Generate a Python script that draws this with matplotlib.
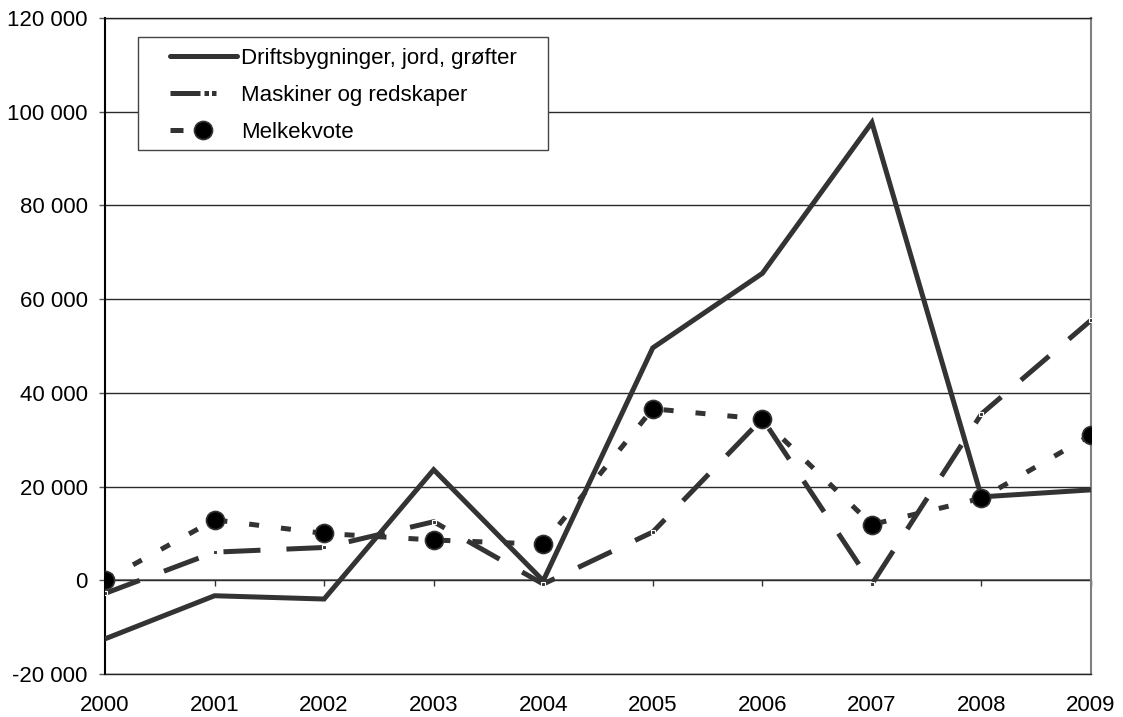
import matplotlib
matplotlib.use("Agg")
import matplotlib.pyplot as plt
from matplotlib.ticker import FuncFormatter, FixedLocator
from matplotlib.lines import Line2D
from matplotlib.patches import Rectangle

plt.rcParams['font.family'] = ['Liberation Sans', 'DejaVu Sans']

years = [2000, 2001, 2002, 2003, 2004, 2005, 2006, 2007, 2008, 2009]
drift = [-12500, -3300, -4000, 23600, -100, 49600, 65500, 97700, 17800, 19300]
maskiner = [-2800, 6000, 7000, 12500, -800, 10300, 34500, -800, 35500, 55500]
melk = [0, 12900, 10000, 8600, 7700, 36600, 34400, 11900, 17500, 31000]
labels = ["Driftsbygninger, jord, grøfter", "Maskiner og redskaper", "Melkekvote"]
yticks = [-20000, 0, 20000, 40000, 60000, 80000, 100000, 120000]

FS = 16
C = '#333333'

fig = plt.figure(figsize=(11.23, 7.17), dpi=100)
ax = fig.add_axes([105/1123, 1-674/717, (1091-105)/1123, (674-18)/717])

ax.set_xlim(years[0], years[-1])
ax.set_ylim(yticks[0], yticks[-1])

# gridlines
ax.yaxis.set_major_locator(FixedLocator(yticks))
ax.grid(axis='y', color='#2a2a2a', linewidth=1.0)
ax.set_axisbelow(True)

l1, = ax.plot(years, drift, color=C, linewidth=3.6, solid_joinstyle='miter', zorder=3)
l2, = ax.plot(years, maskiner, color=C, linewidth=3.6,
              linestyle=(0, (7.4, 5.2)), dash_capstyle='butt',
              marker='s', markersize=3.5, markerfacecolor=C,
              markeredgecolor='white', markeredgewidth=0.8, zorder=3)
l3, = ax.plot(years, melk, color=C, linewidth=3.6,
              linestyle=(0, (2.0, 4.4)), dash_capstyle='butt',
              marker='o', markersize=13, markerfacecolor='black',
              markeredgecolor=C, markeredgewidth=1.2, zorder=4)

# spines
ax.spines['left'].set_color('black')
ax.spines['left'].set_linewidth(1.5)
ax.spines['right'].set_color('#808080')
ax.spines['right'].set_linewidth(1.5)
ax.spines['top'].set_color('#222222')
ax.spines['top'].set_linewidth(1.0)
ax.spines['bottom'].set_color('#222222')
ax.spines['bottom'].set_linewidth(1.0)

ax.yaxis.set_major_formatter(FuncFormatter(lambda v, p: f"{int(v):,}".replace(",", " ")))
ax.tick_params(axis='y', direction='out', length=4.5, width=1, color='#555555',
               pad=8, labelsize=FS)
ax.set_xticks(years)
ax.set_xticklabels([str(y) for y in years])
ax.tick_params(axis='x', length=0, pad=15, labelsize=FS)

# zero axis line with category ticks
zero_frac = (0 - yticks[0]) / (yticks[-1] - yticks[0])
sec = ax.secondary_xaxis(zero_frac)
sec.set_xticks(years)
sec.set_xticklabels([])
sec.tick_params(axis='x', direction='out', length=4.5, width=1, color='#333333')
sec.spines['bottom'].set_color('#808080')
sec.spines['bottom'].set_linewidth(1.5)

# legend proxies
h1 = Line2D([], [], color=C, linewidth=3.6, solid_capstyle='round')
h2 = Line2D([], [], color=C, linewidth=3.6, dash_capstyle='butt',
            linestyle=(0, (6, 0.8, 0.9, 0.6, 0.9, 12)))
h3 = Line2D([], [], color=C, linewidth=3.6, dash_capstyle='butt',
            linestyle=(0, (2.6, 2.4, 3, 10)),
            marker='o', markersize=13, markerfacecolor='black',
            markeredgecolor=C, markeredgewidth=1.2)

frame = Rectangle((33/986, (674-150)/656), (548-138)/986, (150-37)/656,
                  transform=ax.transAxes, facecolor='white',
                  edgecolor='#444444', linewidth=1.0, zorder=9)
ax.add_patch(frame)

leg = ax.legend([h1, h2, h3], labels, loc='upper left',
                bbox_to_anchor=((170-105)/986, (674-48)/656), fontsize=FS,
                frameon=False, handlelength=3.0,
                handletextpad=0.2, labelspacing=0.72, borderpad=0,
                borderaxespad=0)
leg.set_zorder(10)

fig.savefig("out.png", dpi=100)
